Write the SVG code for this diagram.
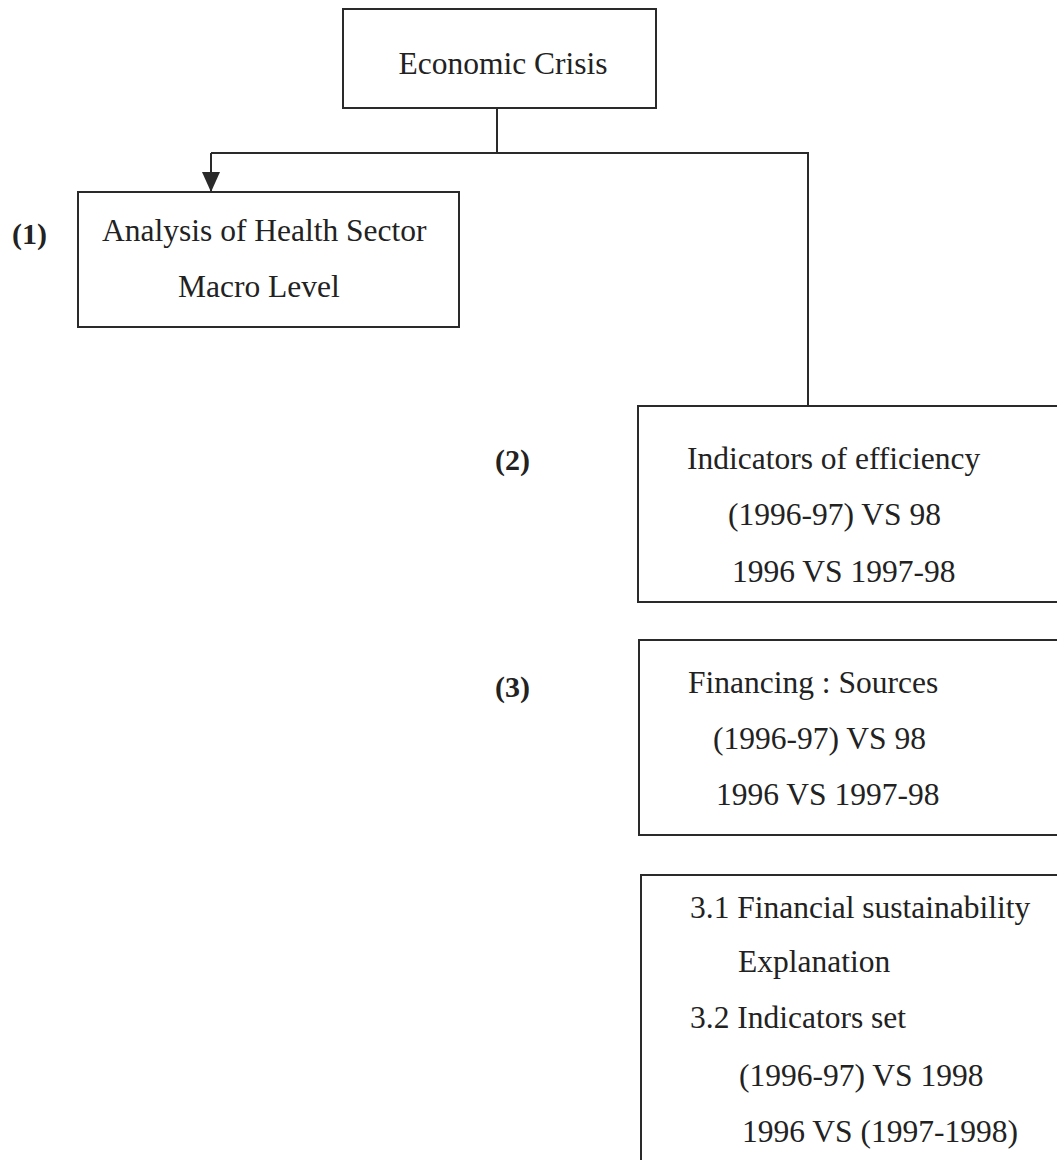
<svg xmlns="http://www.w3.org/2000/svg" width="1057" height="1160" viewBox="0 0 1057 1160">
<style>
.box{fill:none;stroke:#2a2a2a;stroke-width:2}
.con{fill:none;stroke:#2a2a2a;stroke-width:2}
text{font-family:"Liberation Serif","Times New Roman",serif;font-size:31.5px;fill:#222}
.lbl{font-weight:bold;font-size:30px}
.mid{text-anchor:middle}
</style>
<defs>
<marker id="arr" markerUnits="userSpaceOnUse" markerWidth="20" markerHeight="18" refX="20" refY="9" orient="auto">
<path d="M0,0 L20,9 L0,18 z" fill="#2a2a2a"/>
</marker>
</defs>
<rect width="1057" height="1160" fill="#fff"/>
<g id="connectors">
<path class="con" d="M497,108 V153"/>
<path class="con" d="M211,153 H808 V406"/>
<path class="con" d="M211,153 V192" marker-end="url(#arr)"/>
</g>
<g id="economic-crisis">
<rect class="box" x="343" y="9" width="313" height="99"/>
<text class="mid" x="503" y="74">Economic Crisis</text>
</g>
<g id="node1">
<rect class="box" x="78" y="192" width="381" height="135"/>
<text class="lbl" x="12" y="244">(1)</text>
<text x="102" y="241">Analysis of Health Sector</text>
<text x="178" y="297">Macro Level</text>
</g>
<g id="node2">
<rect class="box" x="638" y="406" width="440" height="196"/>
<text class="lbl" x="495" y="470">(2)</text>
<text x="687" y="469">Indicators of efficiency</text>
<text x="728" y="525">(1996-97) VS 98</text>
<text x="732" y="582">1996 VS 1997-98</text>
</g>
<g id="node3">
<rect class="box" x="639" y="640" width="440" height="195"/>
<text class="lbl" x="495" y="697">(3)</text>
<text x="688" y="693">Financing : Sources</text>
<text x="713" y="749">(1996-97) VS 98</text>
<text x="716" y="805">1996 VS 1997-98</text>
</g>
<g id="node3-detail">
<rect class="box" x="641" y="875" width="440" height="300"/>
<text x="690" y="918">3.1 Financial sustainability</text>
<text x="738" y="972">Explanation</text>
<text x="690" y="1028">3.2 Indicators set</text>
<text x="739" y="1086">(1996-97) VS 1998</text>
<text x="742" y="1142">1996 VS (1997-1998)</text>
</g>
</svg>
